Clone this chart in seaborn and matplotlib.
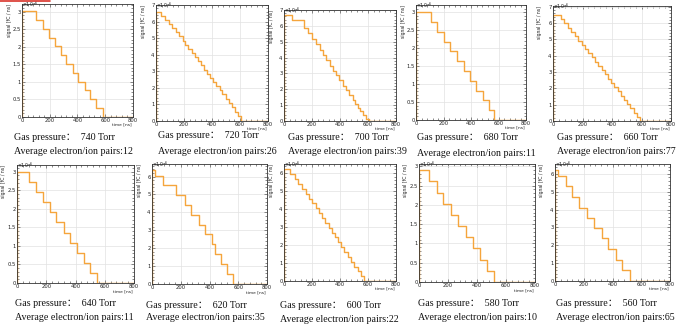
import numpy as np
import pandas as pd
import matplotlib
matplotlib.use("Agg")
import matplotlib.pyplot as plt
import seaborn as sns
from matplotlib.ticker import MultipleLocator
from matplotlib.lines import Line2D

# ---------------- data ----------------
pressures = [740, 720, 700, 680, 660, 640, 620, 600, 580, 560]
pairs = [12, 26, 39, 11, 77, 11, 35, 22, 10, 65]

# signal level at t = 0 (x1e-6 fC/ns)
top_levels = [3.02, 6.57, 6.67, 3.0, 6.5, 3.0, 6.35, 6.2, 2.9, 6.2]

# drop times [ns] and the level after each drop
t_740 = [100, 148, 194, 235, 278, 318, 364, 407, 453, 493, 536, 582]
s_740 = [2.76, 2.51, 2.25, 2.01, 1.76, 1.51, 1.25, 1.01, 0.76, 0.50, 0.25, 0]

t_720 = [36, 62, 95, 112, 140, 162, 190, 207, 232, 255, 276, 300, 318, 345,
         363, 388, 410, 430, 455, 472, 500, 520, 542, 565, 585, 608]
s_720 = [6.35, 6.08, 5.85, 5.6, 5.35, 5.1, 4.85, 4.6, 4.35, 4.1, 3.85, 3.6, 3.35, 3.1,
         2.85, 2.6, 2.35, 2.1, 1.85, 1.6, 1.35, 1.1, 0.82, 0.55, 0.28, 0]

t_700 = [60, 145, 170, 200, 230, 255, 275, 300, 330, 350, 370, 392, 420, 440,
         465, 490, 510, 530, 545, 565, 585, 610]
s_700 = [6.4, 5.85, 5.55, 5.15, 4.85, 4.5, 4.15, 3.85, 3.45, 3.15, 2.9, 2.6, 2.2, 1.95,
         1.65, 1.35, 1.05, 0.8, 0.6, 0.35, 0.15, 0]

t_680 = [107, 151, 200, 246, 295, 346, 390, 437, 485, 529, 566]
s_680 = [2.73, 2.45, 2.18, 1.91, 1.64, 1.36, 1.09, 0.82, 0.55, 0.27, 0]

t_660 = [55, 75, 100, 125, 150, 170, 195, 215, 240, 262, 285, 305, 330, 350, 372,
         395, 415, 440, 460, 480, 505, 525, 548, 570, 590]
s_660 = [6.25, 5.98, 5.72, 5.45, 5.2, 4.93, 4.68, 4.42, 4.15, 3.9, 3.63, 3.38, 3.12,
         2.86, 2.6, 2.34, 2.08, 1.82, 1.56, 1.3, 1.04, 0.78, 0.52, 0.26, 0]

t_640 = [82, 130, 175, 225, 270, 318, 361, 409, 455, 502, 548]
s_640 = [2.73, 2.45, 2.18, 1.91, 1.64, 1.36, 1.09, 0.82, 0.55, 0.27, 0]

t_620 = [21, 79, 170, 230, 268, 325, 370, 415, 440, 480, 522, 563]
s_620 = [6.05, 5.55, 4.98, 4.42, 3.88, 3.32, 2.78, 2.22, 1.68, 1.12, 0.56, 0]

t_600 = [42, 78, 100, 130, 155, 175, 200, 225, 250, 270, 295, 320, 340, 365, 385,
         410, 430, 455, 478, 500, 525, 548, 572]
s_600 = [5.93, 5.66, 5.39, 5.12, 4.85, 4.58, 4.31, 4.04, 3.77, 3.5, 3.23, 2.96, 2.69,
         2.42, 2.15, 1.88, 1.61, 1.34, 1.07, 0.8, 0.53, 0.26, 0]

t_580 = [69, 122, 168, 221, 271, 322, 370, 423, 471, 520]
s_580 = [2.61, 2.32, 2.03, 1.74, 1.45, 1.16, 0.87, 0.58, 0.29, 0]

t_560 = [18, 74, 116, 169, 220, 273, 324, 370, 421, 467, 525]
s_560 = [5.9, 5.3, 4.7, 4.1, 3.55, 2.95, 2.4, 1.8, 1.2, 0.6, 0]

drop_times = [t_740, t_720, t_700, t_680, t_660, t_640, t_620, t_600, t_580, t_560]
drop_levels = [s_740, s_720, s_700, s_680, s_660, s_640, s_620, s_600, s_580, s_560]

t_max = 800
y_max = [3.22, 7.0, 7.0, 3.2, 7.05, 3.18, 6.7, 6.5, 3.06, 6.55]
y_major = [0.5, 1, 1, 0.5, 1, 0.5, 1, 1, 0.5, 1]
y_minor = [0.1, 0.2, 0.2, 0.1, 0.2, 0.1, 0.2, 0.2, 0.1, 0.2]

# ---------------- layout (pixels) ----------------
W, H = 690, 327
ax_px = [  # left, top, right, bottom
    (22, 4, 133, 117), (156, 5, 268, 121), (284, 10, 396, 121),
    (416, 5, 526, 120), (553, 6, 671, 121),
    (17, 165, 134, 283), (152, 164, 267, 284), (284, 164, 396, 281),
    (419, 164, 535, 282), (555, 164, 670, 281),
]
cap_px = [  # x, y of line 1 and y of line 2
    (14, 137, 152), (158, 136, 151), (288, 137, 151), (417, 137, 153), (557, 137, 152),
    (15, 303, 318), (146, 305, 317), (280, 306, 319), (418, 304, 317), (556, 304, 317),
]

sns.set_theme(style="white")
plt.rcParams["font.family"] = ["DejaVu Sans"]

fig = plt.figure(figsize=(W / 100, H / 100), dpi=100)
fig.patch.set_facecolor("white")

line_color = "#F5A53C"
serif = ["Liberation Serif", "Noto Sans CJK SC"]

for i in range(10):
    l, t, r, b = ax_px[i]
    ax = fig.add_axes([l / W, 1 - b / H, (r - l) / W, (b - t) / H])
    xs = [0, 0] + list(drop_times[i]) + [t_max]
    ys = [0, top_levels[i]] + list(drop_levels[i]) + [0]
    df = pd.DataFrame({"time": xs, "signal": ys})
    sns.lineplot(data=df, x="time", y="signal", ax=ax, estimator=None, sort=False,
                 drawstyle="steps-post", color=line_color, lw=1.0)
    ax.set_xlim(0, t_max)
    ax.set_ylim(0, y_max[i])
    ax.xaxis.set_major_locator(MultipleLocator(200))
    ax.xaxis.set_minor_locator(MultipleLocator(40))
    ax.yaxis.set_major_locator(MultipleLocator(y_major[i]))
    ax.yaxis.set_minor_locator(MultipleLocator(y_minor[i]))
    ax.grid(True, which="major", color="#e2e2e2", lw=0.5)
    ax.tick_params(which="both", direction="in", top=True, right=True,
                   bottom=True, left=True, colors="#333333", width=0.4)
    ax.tick_params(which="major", length=2.5, labelsize=3.8, pad=1.0, labelcolor="#222222")
    ax.tick_params(which="minor", length=1.3)
    ax.yaxis.set_major_formatter(matplotlib.ticker.FuncFormatter(
        lambda v, p: ("%g" % v)))
    for sp in ax.spines.values():
        sp.set_linewidth(0.6)
        sp.set_color("#333333")
    ax.set_xlabel("")
    ax.set_ylabel("")
    ax.text(0.985, -0.05, "time [ns]", transform=ax.transAxes, ha="right", va="top",
            fontsize=3.2, color="#222222")
    ax.text(-13.0 / (r - l), 1.0, "signal [fC / ns]", transform=ax.transAxes,
            ha="center", va="top", rotation=90, fontsize=3.3, color="#222222")
    ax.text(0.0, 1.0, r"$\times10^{-6}$", transform=ax.transAxes, ha="left", va="center",
            fontsize=3.4, color="#222222")

    x0, y1, y2 = cap_px[i]
    fig.text(x0 / W, 1 - y1 / H, "Gas pressure：  %d Torr" % pressures[i],
             ha="left", va="center", fontsize=7.2, family=serif, color="#111111")
    fig.text(x0 / W, 1 - y2 / H, "Average electron/ion pairs:%d" % pairs[i],
             ha="left", va="center", fontsize=7.2, family=serif, color="#111111")

fig.add_artist(Line2D([0, 50 / W], [1 - 0.8 / H, 1 - 0.8 / H], color="#d9342b", lw=1.2,
                      transform=fig.transFigure))

fig.savefig("out.png", dpi=100, facecolor="white")
